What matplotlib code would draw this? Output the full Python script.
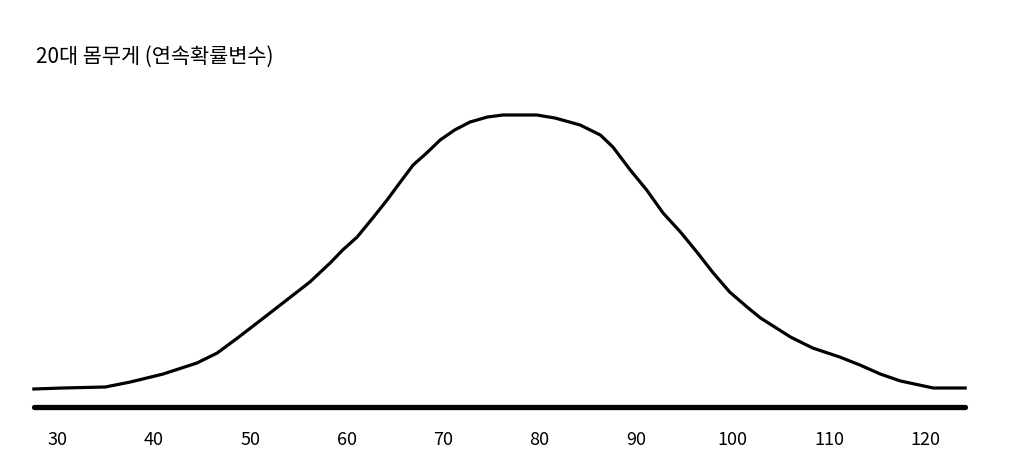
import numpy as np
import matplotlib.pyplot as plt

plt.rcParams['font.family'] = ['Noto Sans CJK KR', 'DejaVu Sans']

# weight (kg) and relative height of the curve
weight = [27.6, 30.6, 35.0, 37.6, 41.0, 44.5, 46.6, 48.7, 51.4, 54.2, 56.2,
          58.3, 59.6, 61.1, 62.8, 64.2, 65.5, 66.9, 68.3, 69.7, 71.2, 72.8,
          74.6, 76.2, 79.7, 81.6, 84.2, 86.3, 87.6, 89.4, 91.1, 92.8, 94.6,
          96.3, 98.0, 99.7, 101.5, 102.9, 106.0, 108.3, 111.1, 113.2, 115.3,
          117.4, 120.8, 124.1]
density = [18, 19, 20, 25, 33, 44, 54, 69, 89, 110, 125,
           144, 157, 170, 190, 207, 224, 242, 254, 267, 277, 285,
           290, 292, 292, 289, 282, 272, 260, 237, 217, 194, 175,
           155, 134, 115, 100, 89, 70, 59, 50, 42, 33,
           26, 19, 19]
tick_values = [30, 40, 50, 60, 70, 80, 90, 100, 110, 120]
title = "20대 몸무게 (연속확률변수)"

fig = plt.figure(figsize=(10.24, 4.73), dpi=100)
ax = fig.add_axes([0, 0, 1, 1])
ax.set_xlim(24.09, 130.2)
ax.set_ylim(-66, 407)
ax.axis('off')

# baseline
ax.plot([weight[0], weight[-1]], [0, 0], color='black', lw=3.8,
        solid_capstyle='round')

# curve
ax.plot(weight, density, color='black', lw=2.3, solid_joinstyle='round')

# tick labels
for t in tick_values:
    ax.text(t, -33, str(t), ha='center', va='center', fontsize=13)

fig.text(36 / 1024, 1 - 57 / 473, title, ha='left', va='center', fontsize=15)

fig.savefig('out.png', dpi=100)
